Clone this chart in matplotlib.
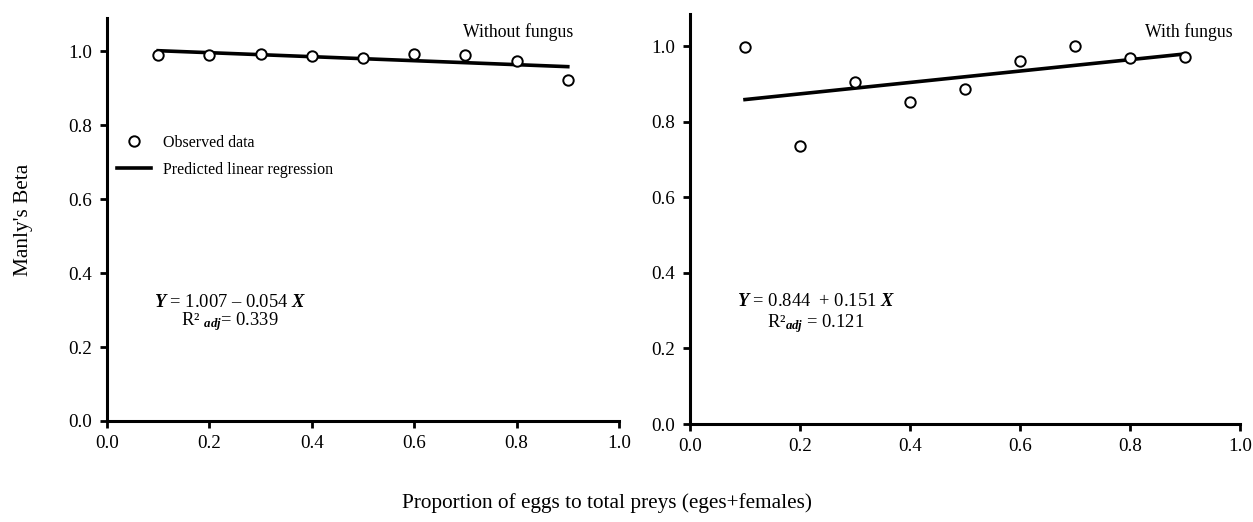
import matplotlib
matplotlib.use("Agg")
import matplotlib.pyplot as plt
import numpy as np

plt.rcParams['font.family'] = ['Liberation Serif', 'DejaVu Serif']
plt.rcParams['mathtext.fontset'] = 'custom'
plt.rcParams['mathtext.rm'] = 'Liberation Serif'
plt.rcParams['mathtext.it'] = 'Liberation Serif:italic'
plt.rcParams['mathtext.bf'] = 'Liberation Serif:bold'
plt.rcParams['mathtext.bfit'] = 'Liberation Serif:italic:bold'

prop = [0.1, 0.2, 0.3, 0.4, 0.5, 0.6, 0.7, 0.8, 0.9]
beta_without = [0.990, 0.989, 0.992, 0.988, 0.983, 0.992, 0.989, 0.975, 0.921]
beta_with = [0.998, 0.735, 0.905, 0.853, 0.887, 0.960, 1.000, 0.970, 0.973]
coef_without = (1.007, -0.054)
coef_with = (0.844, 0.151)
titles = ["Without fungus", "With fungus"]
eq_texts = [r"$\mathbfit{Y}$ = 1.007 – 0.054 $\mathbfit{X}$",
            r"$\mathbfit{Y}$ = 0.844  + 0.151 $\mathbfit{X}$"]
r2_texts = [r"R² ${}_{\mathbfit{adj}}$= 0.339", r"R²${}_{\mathbfit{adj}}$ = 0.121"]
ticks = [0.0, 0.2, 0.4, 0.6, 0.8, 1.0]

fig = plt.figure(figsize=(12.53, 5.22), dpi=100)
ax1 = fig.add_axes([0.0854, 0.1935, 0.4086, 0.772])
ax2 = fig.add_axes([0.5507, 0.1877, 0.4389, 0.785])

panels = [(ax1, beta_without, coef_without, 1.09, (0.240, 0.295, 0.246), (0.910, 0.965)),
          (ax2, beta_with, coef_with, 1.085, (0.229, 0.298, 0.246), (0.987, 0.956))]
for i, (ax, yv, coef, ytop, eqpos, tpos) in enumerate(panels):
    xl = np.array([prop[0], prop[-1]])
    ax.plot(xl, coef[0] + coef[1] * xl, color='black', lw=2.6, zorder=2,
            label="Predicted linear regression")
    ax.plot(prop, yv, 'o', mfc='white', mec='black', mew=1.4, ms=7.5, zorder=3,
            label="Observed data")
    ax.set_xlim(0, 1.0)
    ax.set_ylim(0, ytop)
    ax.set_xticks(ticks)
    ax.set_yticks(ticks)
    ax.set_xticklabels([f"{t:.1f}" for t in ticks])
    ax.set_yticklabels([f"{t:.1f}" for t in ticks])
    ax.spines['top'].set_visible(False)
    ax.spines['right'].set_visible(False)
    ax.spines['left'].set_linewidth(2.2)
    ax.spines['bottom'].set_linewidth(2.2)
    ax.tick_params(width=2, length=5, labelsize=13.8, direction='out')
    ax.tick_params(axis='x', pad=5)
    ax.tick_params(axis='y', pad=6)
    ax.text(tpos[0], tpos[1], titles[i], transform=ax.transAxes,
            ha='right', va='center', fontsize=12.8)
    ax.text(eqpos[0], eqpos[1], eq_texts[i], transform=ax.transAxes, ha='center',
            va='center', fontsize=13.3)
    ax.text(eqpos[0], eqpos[2], r2_texts[i], transform=ax.transAxes, ha='center',
            va='center', fontsize=13.3)

h, l = ax1.get_legend_handles_labels()
ax1.legend([h[1], h[0]], [l[1], l[0]], loc='upper left', bbox_to_anchor=(0.0195, 0.71),
           borderaxespad=0, borderpad=0,
           frameon=False, fontsize=11.5, handlelength=2.1, labelspacing=0.7,
           handletextpad=0.8)

fig.text(0.019, 0.578, "Manly's Beta", rotation=90, ha='center', va='center', fontsize=15.3)
fig.text(0.4844, 0.037, "Proportion of eggs to total preys (eges+females)", ha='center',
         va='center', fontsize=15.3)

fig.savefig("out.png", dpi=100)
